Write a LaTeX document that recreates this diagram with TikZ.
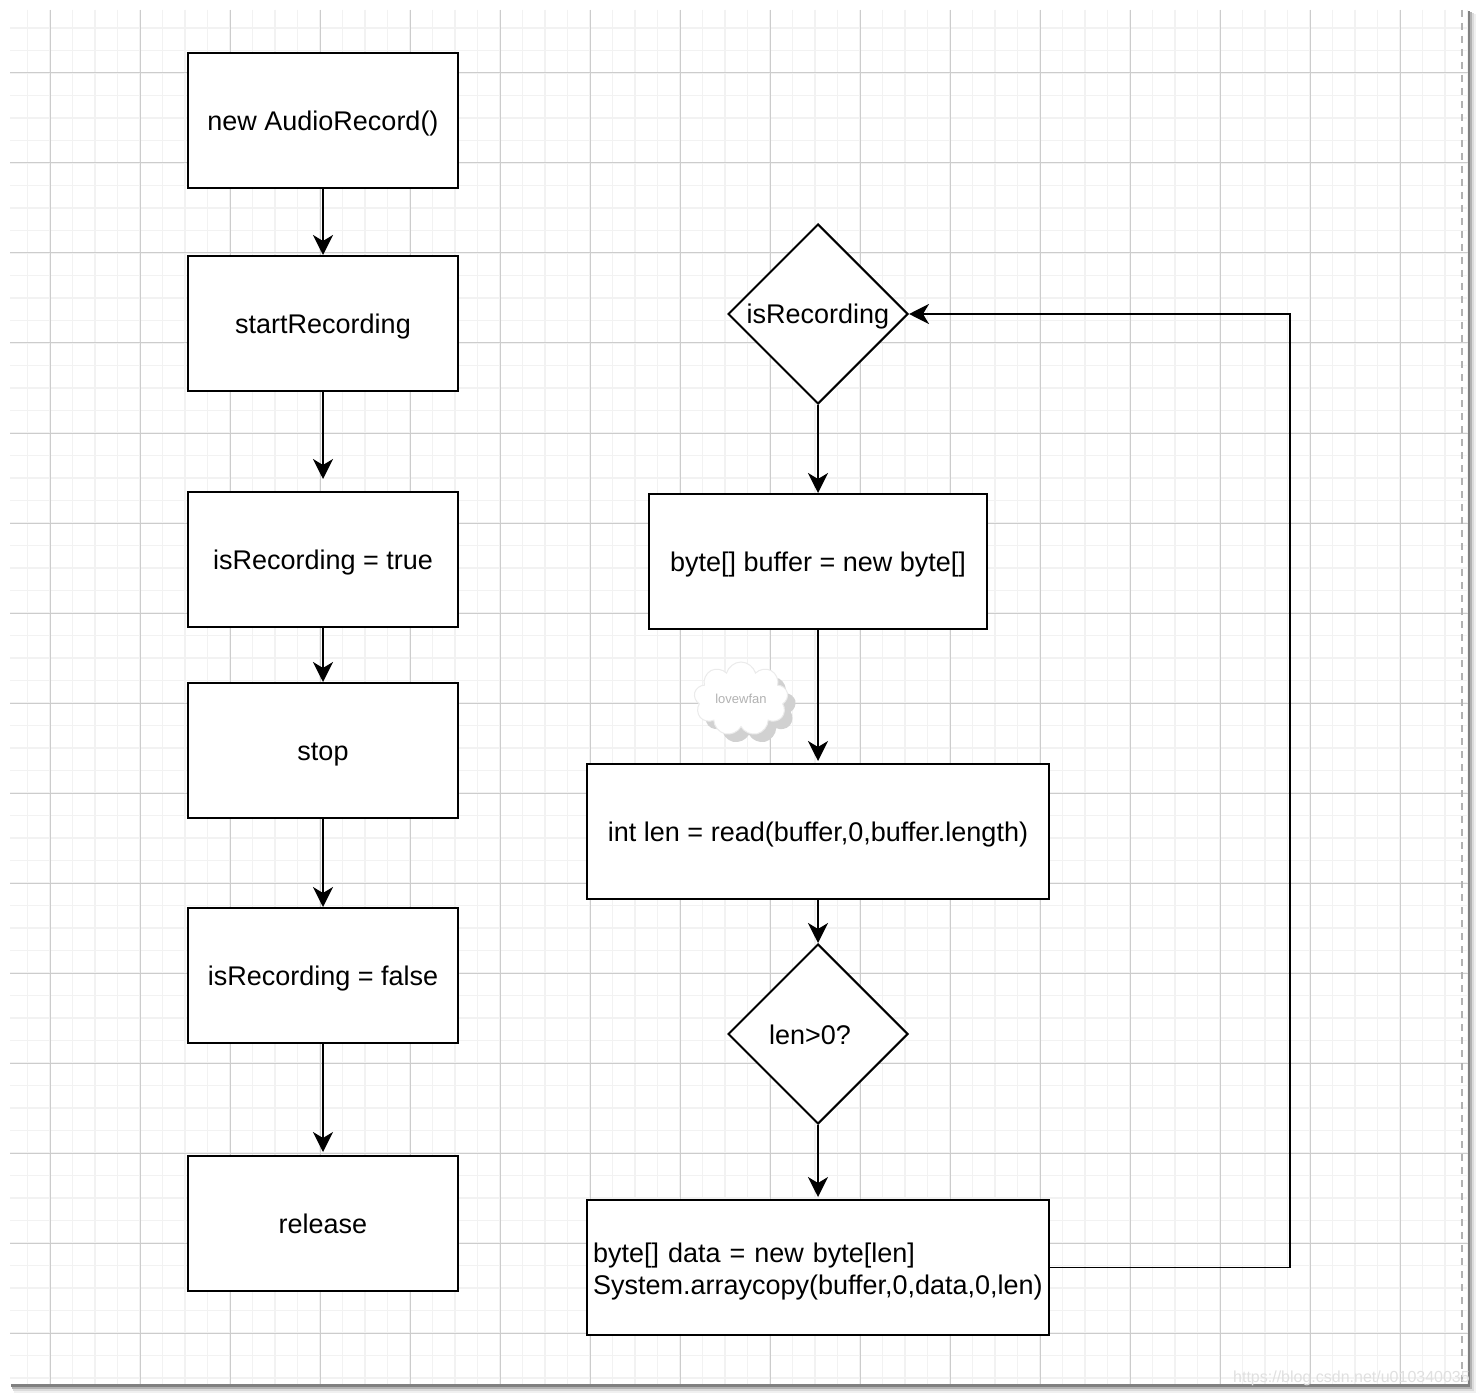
\documentclass[tikz,border=0pt]{standalone}
\usepackage{fontspec}
\setmainfont{Liberation Sans}
\usetikzlibrary{arrows.meta,shapes.geometric,shapes.symbols}
\begin{document}
\begin{tikzpicture}[x=1pt,y=-1pt,
  lbl/.style={font=\fontsize{27}{32.4}\selectfont, text=black},
  oneline/.style={text height=24pt, text depth=4pt},
  box/.style={lbl, draw=black, line width=2pt, fill=white, rectangle,
    minimum height=135pt, inner sep=0pt},
  narrow/.style={box, oneline, minimum width=270pt},
  wide/.style={box, minimum width=462pt},
  dia/.style={lbl, oneline, draw=black, line width=2pt, fill=white, diamond,
    minimum width=180pt, minimum height=180pt, inner sep=0pt},
  arr/.style={draw=black, line width=2pt,
    -{Stealth[length=20pt, width=20pt, inset=6pt]}},
  minorgrid/.style={draw=black!5, line width=1.6pt},
  majorgrid/.style={draw=black!20, line width=1pt}]
\useasboundingbox (0,0) rectangle (1480,1396);
\fill[white] (0,0) rectangle (1480,1396);
% canvas shadow
\fill[black!6] (14,14) rectangle (1476,1393);
\fill[black!14] (13,13) rectangle (1474,1391);
\fill[black!30] (12,12) rectangle (1472,1389);
\fill[black!50] (11,11) rectangle (1470,1387);
\fill[white] (10,10) rectangle (1468,1384);
% grid
\begin{scope}
  \clip (10,10) rectangle (1468,1384);
  \foreach \i in {0,...,64} {
    \draw[minorgrid] ({27.5+22.5*\i},10) -- ({27.5+22.5*\i},1384);
  }
  \foreach \i in {0,...,61} {
    \draw[minorgrid] (10,{28+22.5*\i}) -- (1468,{28+22.5*\i});
  }
  \foreach \i in {0,...,15} {
    \draw[majorgrid] ({50+90*\i},10) -- ({50+90*\i},1384);
  }
  \foreach \i in {0,...,14} {
    \draw[majorgrid] (10,{73+90*\i}) -- (1468,{73+90*\i});
  }
\end{scope}
% page break line
\draw[black!30, line width=2pt, dash pattern=on 7pt off 6pt] (1462,10) -- (1462,1384);

% watermark cloud
\node[cloud, cloud puffs=9, aspect=1.3, minimum width=94pt, minimum height=74pt,
  fill=black!18, inner sep=0pt] (cloudshadow) at (749,707) {};
\node[cloud, cloud puffs=9, aspect=1.3, minimum width=94pt, minimum height=74pt,
  fill=white, draw=black!8, line width=1pt, inner sep=0pt] (cloud) at (741,699) {};
\node[font=\fontsize{13}{15}\selectfont, text=black!30] (cloudtext) at (cloud.center) {lovewfan};

% left column
\node[narrow] (b1) at (323,120.5) {new AudioRecord()};
\node[narrow] (b2) at (323,323.5) {startRecording};
\node[narrow] (b3) at (323,559.5) {isRecording = true};
\node[narrow] (b4) at (323,750.5) {stop};
\node[narrow] (b5) at (323,975.5) {isRecording = false};
\node[narrow] (b6) at (323,1223.5) {release};

\draw[arr] (b1) -- (b2);
\draw[arr, shorten >=12pt] (b2) -- (b3);
\draw[arr] (b3) -- (b4);
\draw[arr] (b4) -- (b5);
\draw[arr, shorten >=3pt] (b5) -- (b6);

% right column
\node[dia] (d1) at (818,314) {\makebox[0pt]{isRecording}};
\node[box, oneline, minimum width=338pt] (b7) at (818,561.5) {byte[] buffer = new byte[]};
\node[wide, oneline] (b8) at (818,831.5) {int len = read(buffer,0,buffer.length)};
\node[dia] (d2) at (818,1034) {\makebox[0pt]{len>0?\hspace{16pt}}};
\node[wide, text width=450pt, align=left, text height=24pt, text depth=35pt] (b9) at (818,1267.5)
  {byte[] data = new byte[len]\\System.arraycopy(buffer,0,data,0,len)};

\draw[arr] (d1) -- (b7);
\draw[arr, shorten >=2pt] (b7) -- (b8);
\draw[arr] (b8) -- (d2);
\draw[arr, shorten >=2pt] (d2) -- (b9);

\coordinate (loopcorner) at (1290,314);
\draw[arr, line width=1.8pt] (b9.east) -| (loopcorner) -- (d1.east);

% csdn watermark
\node[anchor=south east, inner sep=0pt, font=\fontsize{16}{18}\selectfont, text=black!12]
  (wm) at (1470,1386) {https://blog.csdn.net/u010340035};
\end{tikzpicture}
\end{document}
